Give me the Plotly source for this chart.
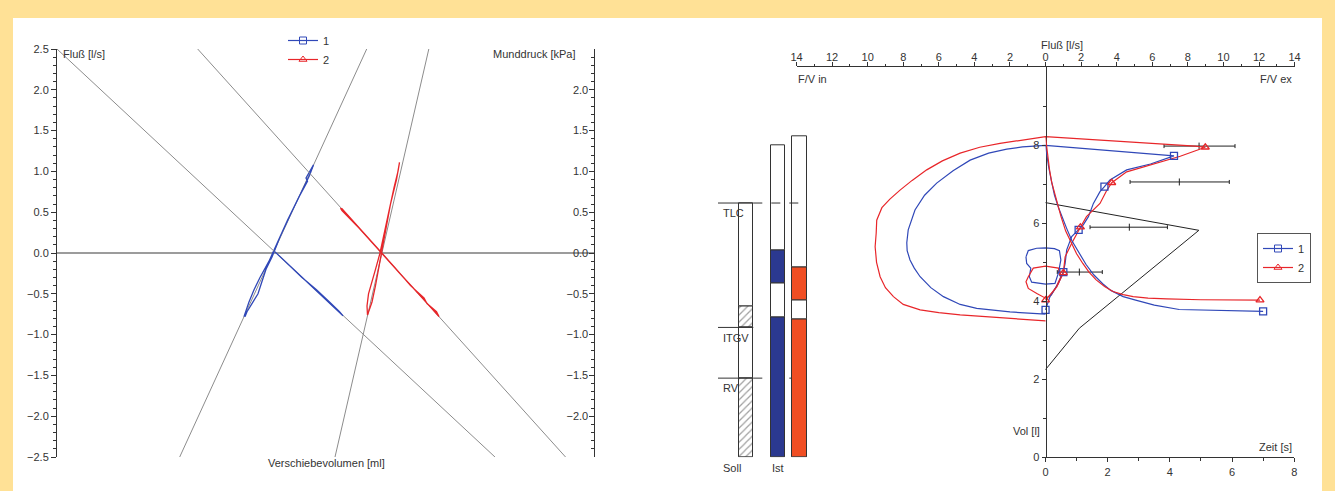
import plotly.graph_objects as go

# ---------------- data : left panel (body plethysmography loops) ----------------
# x = Verschiebevolumen [ml] (arbitrary scale -50..50), y = Fluß [l/s] / Munddruck [kPa]
ref_a_x = [-50.0, 31.56]
ref_a_y = [2.5, -2.5]
ref_b_x = [-23.8, 44.7]
ref_b_y = [2.5, -2.5]
ref_c_x = [-27.15, 7.67]
ref_c_y = [-2.5, 2.5]
ref_d_x = [1.77, 19.24]
ref_d_y = [-2.5, 2.5]

res1_x = [-14.99, -14.62, -13.69, -12.57, -11.83, -11.08, -9.96, -8.47, -6.33, -4.10, -2.98, -2.23,
          -2.89, -3.63, -3.35, -4.84, -7.08, -9.12, -10.52, -12.20, -13.31, -14.25, -14.90, -15.18]
res1_y = [-0.78, -0.72, -0.62, -0.5, -0.35, -0.2, -0.05, 0.2, 0.5, 0.8, 0.95, 1.08,
          1.0, 0.92, 0.88, 0.7, 0.4, 0.1, -0.1, -0.3, -0.45, -0.6, -0.72, -0.78]
shut1_x = [-9.50, -7.54, -5.03, -2.70, -1.12, 0.56, 2.23, 3.26, 2.61, 0.74, -1.68, -4.38, -6.70, -8.85]
shut1_y = [0.02, -0.1, -0.25, -0.4, -0.5, -0.6, -0.7, -0.77, -0.72, -0.6, -0.45, -0.3, -0.15, -0.02]

res2_x = [7.82, 8.66, 9.31, 9.87, 10.43, 11.17, 12.10, 13.22, 13.69, 13.78,
          13.50, 12.76, 11.73, 10.71, 10.15, 9.31, 8.66, 8.01, 7.73, 7.82]
res2_y = [-0.76, -0.6, -0.4, -0.2, 0.0, 0.3, 0.6, 0.9, 1.05, 1.11,
          1.0, 0.8, 0.5, 0.2, 0.0, -0.2, -0.35, -0.5, -0.65, -0.76]
shut2_x = [2.79, 3.07, 6.33, 9.03, 11.82, 14.53, 17.32, 19.37, 21.14, 20.67, 18.90, 18.34,
           15.83, 13.22, 10.52, 7.73, 5.03, 2.98]
shut2_y = [0.55, 0.52, 0.3, 0.1, -0.1, -0.3, -0.5, -0.65, -0.78, -0.72, -0.62, -0.55,
           -0.4, -0.2, 0.0, 0.2, 0.4, 0.55]

# ---------------- data : right panel (flow-volume, spirogram) ----------------
fv1_flow = [0, -0.6, -1.43, -2.0, -3.0, -3.87, -4.8, -5.74, -6.45, -7.05, -7.38, -7.62, -7.78, -7.8,
            -7.72, -7.34, -6.8, -6.12, -5.2, -4.24, -3.2, -2.18, -1.3, -0.5, 0,
            7.22, 5.9, 4.56, 3.62, 3.31, 3.06, 2.69, 2.41, 2.12, 1.86, 1.47, 1.19, 1.1, 1.0,
            0.72, 0.25, 0.07, 0]
fv1_vol = [3.67, 3.68, 3.71, 3.73, 3.77, 3.82, 3.92, 4.12, 4.35, 4.63, 4.85, 5.06, 5.3, 5.5,
           5.83, 6.34, 6.72, 7.03, 7.35, 7.62, 7.8, 7.9, 7.96, 7.99, 8.0,
           7.73, 7.52, 7.37, 7.11, 6.94, 6.81, 6.51, 6.17, 5.96, 5.83, 5.66, 5.32, 4.97, 4.75,
           4.46, 4.12, 3.9, 3.78]
fv2_flow = [0, -2.0, -3.5, -4.8, -6.0, -7.05, -8.0, -8.55, -9.0, -9.3, -9.5, -9.58, -9.52, -9.49,
            -9.2, -8.75, -8.18, -7.5, -6.68, -5.8, -4.8, -3.7, -2.56, -1.06, 0,
            8.4, 8.98, 7.57, 5.5, 4.56, 3.72, 3.4, 3.06, 2.3, 1.96, 1.47, 1.1, 1.0, 0.63, 0.25, 0]
fv2_vol = [3.5, 3.56, 3.6, 3.65, 3.71, 3.78, 3.92, 4.12, 4.35, 4.63, 5.0, 5.4, 5.75, 6.08,
           6.4, 6.62, 6.85, 7.1, 7.37, 7.6, 7.8, 7.95, 8.05, 8.16, 8.22,
           7.98, 7.95, 7.72, 7.45, 7.32, 7.04, 6.81, 6.51, 6.17, 5.9, 5.49, 5.14, 4.73, 4.37, 4.16, 4.03]
mk1_flow = [7.22, 3.31, 1.86, 1.0, 0]
mk1_vol = [7.73, 6.94, 5.83, 4.75, 3.78]
mk2_flow = [8.98, 3.72, 1.96, 1.0, 0]
mk2_vol = [7.95, 7.04, 5.9, 4.73, 4.03]

tid1_flow = [-1.1, -0.97, -0.5, 0, 0.5, 0.78, 0.86, 0.72, 0.53, 0, -0.78, -0.91, -0.83, -1.06, -1.1]
tid1_vol = [5.14, 5.3, 5.36, 5.37, 5.35, 5.3, 5.06, 4.72, 4.46, 4.44, 4.49, 4.63, 4.85, 4.97, 5.14]
tid2_flow = [-0.97, -0.69, 0, 0.72, 0.86, 0.6, 0.32, 0, -0.49, -0.97, -1.1, -0.97]
tid2_vol = [4.63, 4.85, 4.9, 4.85, 4.63, 4.37, 4.16, 4.08, 4.2, 4.33, 4.5, 4.63]

spiro1_t = [0, 0.1, 0.2, 0.29, 0.42, 0.55, 0.68, 0.85, 1.05, 1.3, 1.55, 1.84, 2.1, 2.5, 2.9,
            3.5, 4.3, 5.5, 7.0]
spiro1_vol = [8.0, 7.45, 7.05, 6.72, 6.4, 6.12, 5.87, 5.55, 5.28, 4.95, 4.68, 4.45, 4.28, 4.12, 4.03,
              3.9, 3.79, 3.76, 3.74]
spiro2_t = [0, 0.06, 0.13, 0.2, 0.29, 0.4, 0.5, 0.65, 0.83, 1.0, 1.2, 1.4, 1.63, 1.9, 2.17, 2.5,
            2.82, 3.3, 3.9, 5.0, 6.9]
spiro2_vol = [8.22, 7.8, 7.37, 7.05, 6.77, 6.45, 6.17, 5.8, 5.49, 5.22, 4.97, 4.75, 4.55, 4.38, 4.25,
              4.17, 4.12, 4.08, 4.06, 4.04, 4.03]

pred_flow = [0, 8.62, 1.9, 0]
pred_vol = [6.53, 5.82, 3.31, 2.25]

range_mid = [8.63, 7.52, 4.71, 1.9]
range_vol = [7.98, 7.06, 5.9, 4.75]
range_minus = [1.97, 2.77, 2.21, 1.24]
range_plus = [2.02, 2.81, 2.14, 1.29]

# ---------------- data : lung volume bars ----------------
bar_pos = {"Soll": 2.83, "Ist1": 5.99, "Ist2": 8.12}
soll_base = [0, 2.03, 3.33, 3.87]
soll_len = [2.03, 1.30, 0.54, 2.65]
ist1_base = [0, 3.58, 4.45, 5.31]
ist1_len = [3.58, 0.87, 0.86, 2.69]
ist2_base = [0, 3.53, 4.03, 4.86]
ist2_len = [3.53, 0.50, 0.83, 3.36]
tlc_soll = 6.52
itgv_soll = 3.33
rv_soll = 2.03

W, H = 1335, 491
def pxx(p):
    return p / W
def pxy(p):
    return 1 - p / H

BLUE = "#3048B8"
RED = "#E8262A"
BAR_BLUE = "#2B3990"
BAR_RED = "#F04E23"
GRAY = "#8c8c8c"
INK = "#333333"
FONT = "Liberation Sans Narrow, Arial Narrow, Liberation Sans, sans-serif"

fig = go.Figure()

# left panel : reference lines + loops (pressure curves on the right axis)
for xs, ys, ya in [(ref_a_x, ref_a_y, "y2"), (ref_b_x, ref_b_y, "y2"),
                   (ref_c_x, ref_c_y, "y"), (ref_d_x, ref_d_y, "y")]:
    fig.add_trace(go.Scatter(x=xs, y=ys, mode="lines", line=dict(color=GRAY, width=1),
                             showlegend=False, hoverinfo="skip", xaxis="x", yaxis=ya))
for xs, ys, c, ya in [(res1_x, res1_y, BLUE, "y"), (shut1_x, shut1_y, BLUE, "y2"),
                      (res2_x, res2_y, RED, "y"), (shut2_x, shut2_y, RED, "y2")]:
    fig.add_trace(go.Scatter(x=xs, y=ys, mode="lines", line=dict(color=c, width=1.3),
                             showlegend=False, xaxis="x", yaxis=ya))

# right panel : bars
def add_bar(pos, bases, lens, colors, patterns, w):
    fig.add_trace(go.Bar(x=[pos] * len(bases), y=lens, base=bases, width=[w] * len(bases),
                         marker=dict(color=colors, line=dict(color=INK, width=1),
                                     pattern=dict(shape=patterns, fgcolor="#444", bgcolor="white",
                                                  size=5, solidity=0.25)),
                         showlegend=False, xaxis="x4", yaxis="y3", hoverinfo="skip"))

add_bar(bar_pos["Soll"], soll_base, soll_len, ["white"] * 4, ["/", "", "/", ""], 1.4)
add_bar(bar_pos["Ist1"], ist1_base, ist1_len, [BAR_BLUE, "white", BAR_BLUE, "white"], [""] * 4, 1.43)
add_bar(bar_pos["Ist2"], ist2_base, ist2_len, [BAR_RED, "white", BAR_RED, "white"], [""] * 4, 1.5)

# predicted curve and ranges
fig.add_trace(go.Scatter(x=pred_flow, y=pred_vol, mode="lines", line=dict(color="#222", width=1),
                         showlegend=False, xaxis="x2", yaxis="y3"))
fig.add_trace(go.Scatter(x=range_mid, y=range_vol, mode="markers",
                         marker=dict(symbol="line-ns", size=5, line=dict(color="#222", width=1)),
                         error_x=dict(type="data", array=range_plus, arrayminus=range_minus,
                                      color="#222", thickness=1, width=2),
                         showlegend=False, xaxis="x2", yaxis="y3"))

# spirograms
fig.add_trace(go.Scatter(x=spiro1_t, y=spiro1_vol, mode="lines", line=dict(color=BLUE, width=1.2),
                         showlegend=False, xaxis="x3", yaxis="y3"))
fig.add_trace(go.Scatter(x=spiro2_t, y=spiro2_vol, mode="lines", line=dict(color=RED, width=1.2),
                         showlegend=False, xaxis="x3", yaxis="y3"))
fig.add_trace(go.Scatter(x=spiro1_t[-1:], y=spiro1_vol[-1:], mode="markers",
                         marker=dict(symbol="square-open", size=7, color=BLUE, line=dict(width=1.3)),
                         showlegend=False, xaxis="x3", yaxis="y3"))
fig.add_trace(go.Scatter(x=spiro2_t[-1:], y=spiro2_vol[-1:], mode="markers",
                         marker=dict(symbol="triangle-up-open", size=7, color=RED, line=dict(width=1.3)),
                         showlegend=False, xaxis="x3", yaxis="y3"))

# flow-volume loops
for fx, fy, c in [(tid1_flow, tid1_vol, BLUE), (tid2_flow, tid2_vol, RED),
                  (fv1_flow, fv1_vol, BLUE), (fv2_flow, fv2_vol, RED)]:
    fig.add_trace(go.Scatter(x=fx, y=fy, mode="lines", line=dict(color=c, width=1.2),
                             showlegend=False, xaxis="x2", yaxis="y3"))
fig.add_trace(go.Scatter(x=mk1_flow, y=mk1_vol, mode="markers",
                         marker=dict(symbol="square-open", size=7, color=BLUE, line=dict(width=1.3)),
                         showlegend=False, xaxis="x2", yaxis="y3"))
fig.add_trace(go.Scatter(x=mk2_flow, y=mk2_vol, mode="markers",
                         marker=dict(symbol="triangle-up-open", size=7, color=RED, line=dict(width=1.3)),
                         showlegend=False, xaxis="x2", yaxis="y3"))

# legends
for lg in ["legend", "legend2"]:
    fig.add_trace(go.Scatter(x=[None], y=[None], mode="lines+markers", name="1", legend=lg,
                             line=dict(color=BLUE, width=1.2),
                             marker=dict(symbol="square-open", size=7, color=BLUE)))
    fig.add_trace(go.Scatter(x=[None], y=[None], mode="lines+markers", name="2", legend=lg,
                             line=dict(color=RED, width=1.2),
                             marker=dict(symbol="triangle-up-open", size=7, color=RED)))

axis_font = dict(family=FONT, size=11, color=INK)
common = dict(showgrid=False, zeroline=False, linecolor=INK, linewidth=1, tickcolor=INK,
              tickfont=axis_font, showline=True)

shapes = [
    dict(type="rect", xref="paper", yref="paper", x0=pxx(13), x1=pxx(1322), y0=0, y1=pxy(18),
         fillcolor="white", line=dict(width=0), layer="below"),
    dict(type="line", xref="x4", yref="y3", x0=0, x1=3.53, y0=tlc_soll, y1=tlc_soll,
         line=dict(color=INK, width=1)),
    dict(type="line", xref="x4", yref="y3", x0=3.53, x1=8.87, y0=tlc_soll, y1=tlc_soll,
         line=dict(color=INK, width=1, dash="dash")),
    dict(type="line", xref="x4", yref="y3", x0=0, x1=3.53, y0=rv_soll, y1=rv_soll,
         line=dict(color=INK, width=1)),
    dict(type="line", xref="x4", yref="y3", x0=3.53, x1=7.4, y0=rv_soll, y1=rv_soll,
         line=dict(color=INK, width=1, dash="dash"), layer="below"),
    dict(type="line", xref="x4", yref="y3", x0=0, x1=3.53, y0=itgv_soll, y1=itgv_soll,
         line=dict(color=INK, width=1)),
]

def ann(text, x, y, xa="left", ya="middle"):
    return dict(text=text, x=pxx(x), y=pxy(y), xref="paper", yref="paper", xanchor=xa, yanchor=ya,
                showarrow=False, font=dict(family=FONT, size=11, color=INK))

annotations = [
    ann("Fluß [l/s]", 61, 54),
    ann("Munddruck [kPa]", 578, 54, "right"),
    ann("Verschiebevolumen [ml]", 326, 463, "center"),
    ann("Fluß [l/s]", 1062, 45, "center"),
    ann("F/V in", 796, 79),
    ann("F/V ex", 1294, 79, "right"),
    ann("Vol [l]", 1042, 431, "right"),
    ann("Zeit [s]", 1294, 447, "right"),
    ann("TLC", 721, 213),
    ann("ITGV", 721, 338),
    ann("RV", 721, 388),
    ann("Soll", 721, 468),
    ann("Ist", 770, 468),
]

flow_ticks = list(range(-14, 15, 2))

fig.update_layout(
    width=W, height=H, margin=dict(l=0, r=0, t=0, b=0, pad=0, autoexpand=False),
    paper_bgcolor="#FFE196", plot_bgcolor="rgba(0,0,0,0)",
    font=dict(family=FONT, size=11, color=INK),
    barmode="overlay", bargap=0,
    xaxis=dict(domain=[pxx(57), pxx(594)], range=[-50, 50], visible=False, anchor="y"),
    yaxis=dict(domain=[pxy(457), pxy(49)], range=[-2.5, 2.5], anchor="x", side="left",
               ticks="outside", ticklen=5, dtick=0.5, tick0=0, tickformat=".1f",
               minor=dict(ticks="outside", ticklen=3, dtick=0.1, tickcolor=INK),
               **{**common, "zeroline": True}, zerolinecolor="#9c9c9c", zerolinewidth=2),
    yaxis2=dict(overlaying="y", side="right", anchor="x", range=[-2.5, 2.5],
                ticks="inside", ticklen=5, dtick=0.5, tick0=0, tickformat=".1f",
                ticklabelposition="inside",
                minor=dict(ticks="inside", ticklen=3, dtick=0.1, tickcolor=INK), **common),
    xaxis2=dict(domain=[pxx(796.5), pxx(1294.6)], range=[-14, 14], anchor="y3", side="top",
                tickmode="array", tickvals=flow_ticks, ticktext=[str(abs(v)) for v in flow_ticks],
                ticks="outside", ticklen=4, ticklabelstandoff=-3,
                minor=dict(ticks="outside", ticklen=2, tickmode="array",
                           tickvals=list(range(-13, 14, 2)), tickcolor=INK), **common),
    yaxis3=dict(domain=[pxy(457.3), pxy(67.3)], range=[0, 10], anchor="free",
                position=pxx(1045.5), side="left", tickmode="array", tickvals=[0, 2, 4, 6, 8],
                ticks="outside", ticklen=4,
                minor=dict(ticks="outside", ticklen=3, tickmode="array", tickvals=[1, 3, 5, 7, 9],
                           tickcolor=INK), **common),
    xaxis3=dict(domain=[pxx(1045.5), pxx(1294.2)], range=[0, 8], anchor="y3", side="bottom",
                ticks="outside", ticklen=4, dtick=2, tick0=0,
                minor=dict(ticks="outside", ticklen=3, dtick=1, tickcolor=INK), **common),
    xaxis4=dict(domain=[pxx(718), pxx(810)], range=[0, 9.2], anchor="y3", visible=False),
    legend=dict(x=pxx(283), y=pxy(26), xanchor="left", yanchor="top", bgcolor="rgba(0,0,0,0)",
                font=dict(family=FONT, size=11, color=INK), tracegroupgap=0),
    legend2=dict(x=pxx(1284), y=pxy(233), xanchor="center", yanchor="top", bgcolor="white",
                 bordercolor="#555", borderwidth=1,
                 font=dict(family=FONT, size=11, color=INK), tracegroupgap=0),
    shapes=shapes, annotations=annotations,
)

fig.write_html("out.html")
